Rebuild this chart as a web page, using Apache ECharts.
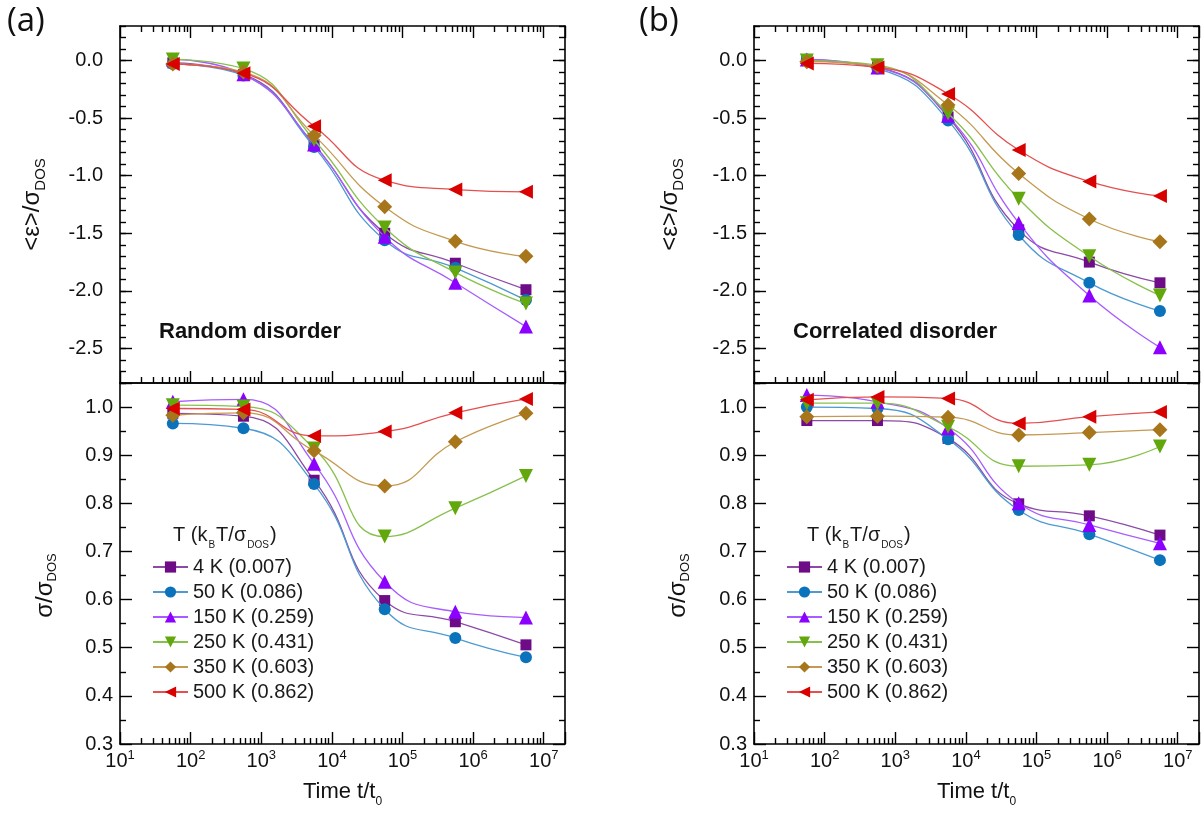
<!DOCTYPE html>
<html><head><meta charset="utf-8">
<script src="https://cdn.jsdelivr.net/npm/echarts@6/dist/echarts.min.js"></script>
<style>html,body{margin:0;padding:0;background:#fff}#c{width:1203px;height:813px}</style>
</head><body><div id="c"></div>
<script>
// ---------------- data ----------------
const TIME = [56, 560, 5600, 56000, 560000, 5600000];
const TEMP_LABELS = ['4 K (0.007)', '50 K (0.086)', '150 K (0.259)', '250 K (0.431)', '350 K (0.603)', '500 K (0.862)'];
const ENERGY_TICK_LABELS = ['-2.5', '-2.0', '-1.5', '-1.0', '-0.5', '0.0'];
const WIDTH_TICK_LABELS = ['0.3', '0.4', '0.5', '0.6', '0.7', '0.8', '0.9', '1.0'];
const X_TICK_EXPONENTS = [1, 2, 3, 4, 5, 6, 7];

// (a) random disorder, <eps>/sigma_DOS  (rows: 4K, 50K, 150K, 250K, 350K, 500K)
const randomEnergy = [
  [-0.02, -0.12, -0.73, -1.50, -1.76, -1.99],
  [-0.03, -0.13, -0.75, -1.56, -1.80, -2.08],
  [0.01, -0.12, -0.73, -1.53, -1.93, -2.31],
  [0.01, -0.07, -0.69, -1.45, -1.84, -2.11],
  [-0.03, -0.10, -0.65, -1.27, -1.57, -1.70],
  [-0.03, -0.11, -0.57, -1.04, -1.12, -1.14]
];
// (a) random disorder, sigma/sigma_DOS
const randomWidth = [
  [0.987, 0.981, 0.848, 0.598, 0.554, 0.506],
  [0.966, 0.956, 0.840, 0.580, 0.520, 0.480],
  [1.011, 1.016, 0.882, 0.637, 0.575, 0.563],
  [1.004, 1.001, 0.914, 0.731, 0.790, 0.857],
  [0.983, 0.988, 0.909, 0.836, 0.928, 0.987],
  [0.997, 0.995, 0.940, 0.949, 0.988, 1.017]
];
// (b) correlated disorder, <eps>/sigma_DOS
const correlatedEnergy = [
  [0.00, -0.06, -0.49, -1.47, -1.75, -1.93],
  [0.01, -0.07, -0.52, -1.515, -1.93, -2.175],
  [0.01, -0.06, -0.48, -1.41, -2.04, -2.49],
  [0.00, -0.04, -0.46, -1.20, -1.70, -2.04],
  [-0.01, -0.05, -0.386, -0.98, -1.376, -1.573],
  [-0.025, -0.06, -0.29, -0.777, -1.05, -1.177]
];
// (b) correlated disorder, sigma/sigma_DOS
const correlatedWidth = [
  [0.972, 0.972, 0.935, 0.799, 0.774, 0.734],
  [1.000, 0.997, 0.933, 0.786, 0.736, 0.682],
  [1.025, 1.011, 0.956, 0.800, 0.755, 0.717],
  [1.008, 1.008, 0.959, 0.877, 0.880, 0.918],
  [0.980, 0.981, 0.979, 0.942, 0.947, 0.953],
  [1.015, 1.021, 1.018, 0.966, 0.980, 0.990]
];

// ---------------- style ----------------
const FONT = '"Liberation Sans", Arial, Helvetica, sans-serif';
const MARKER_COLORS = ['#6e0c88', '#0b72bc', '#8b00ff', '#62a80c', '#a8761a', '#d90000'];
const LINE_COLORS = ['#8c4aa6', '#4d9ad3', '#a75cff', '#88c04c', '#c49a52', '#e45050'];
const SYMBOLS = [['rect', 11, 0], ['circle', 12, 0], ['triangle', 14, 0], ['triangle', 14, 180], ['diamond', 15, 0], ['triangle', 14, 90]];

const X_MIN = 10, X_MAX = 2e7;
const E_MIN = -2.8, E_MAX = 0.3;
const W_MIN = 0.3, W_MAX = 1.05;
const PLOT_W = 445, TOP = 26, MID = 383, BOT = 744;
const E_MAJOR_MIN = -2.5, E_MAJOR_MAX = 0;

const PANELS = [
  {left: 120, energy: randomEnergy, width: randomWidth, title: 'Random disorder', tag: '(a)', tagX: 7, eLabelMargin: 17, eNameGap: 74, wNameGap: 61},
  {left: 754, energy: correlatedEnergy, width: correlatedWidth, title: 'Correlated disorder', tag: '(b)', tagX: 639, eLabelMargin: 7, eNameGap: 70, wNameGap: 62}
];

const AX = {onZero: false, lineStyle: {color: '#000', width: 1.6}};
const TICK = (len) => ({show: true, inside: true, length: len, lineStyle: {color: '#000', width: 1.4}});
const MINOR = (n) => ({show: true, splitNumber: n, length: 6, lineStyle: {color: '#000', width: 1.4}});
const LABEL_STYLE = {fontFamily: FONT, fontSize: 20, color: '#111'};
const NAME_RICH = (base, sub, drop) => ({
  n: {fontFamily: FONT, fontSize: base, color: '#111', lineHeight: base + 2, verticalAlign: 'top'},
  s: {fontFamily: FONT, fontSize: sub, color: '#111', lineHeight: sub, padding: [drop, 0, 0, 0], verticalAlign: 'top'}
});

function xLabel(v) {
  const e = Math.round(Math.log10(v));
  if (X_TICK_EXPONENTS.indexOf(e) < 0 || Math.abs(Math.pow(10, e) - v) / v > 1e-6) return '';
  return '{b|10}{s|' + e + '}';
}
function wLabel(v) {
  const s = v.toFixed(1);
  return (Math.abs(v * 10 - Math.round(v * 10)) < 1e-6 && WIDTH_TICK_LABELS.indexOf(s) >= 0) ? s : '';
}
function eLabel(v) {
  const s = v.toFixed(1);
  return ENERGY_TICK_LABELS.indexOf(s) >= 0 ? s : '';
}

const grids = [], xAxes = [], yAxes = [], series = [], legends = [], graphics = [];
const eRange = E_MAX - E_MIN;
const topH = MID - TOP;

PANELS.forEach((p, pi) => {
  const gTop = grids.length;
  grids.push({left: p.left, top: TOP, width: PLOT_W, height: topH, outerBoundsMode: 'none'});
  const gBot = grids.length;
  grids.push({left: p.left, top: MID, width: PLOT_W, height: BOT - MID, outerBoundsMode: 'none'});
  const gHelp = grids.length;
  const helpTop = TOP + (E_MAX - E_MAJOR_MAX) / eRange * topH;
  const helpBot = TOP + (E_MAX - E_MAJOR_MIN) / eRange * topH;
  grids.push({left: p.left, top: helpTop, width: PLOT_W, height: helpBot - helpTop, outerBoundsMode: 'none'});

  // x axes
  const xTopB = xAxes.length;
  xAxes.push({gridIndex: gTop, type: 'log', logBase: 10, min: X_MIN, max: X_MAX, position: 'bottom',
    axisLine: AX, axisTick: TICK(12), minorTick: MINOR(9), axisLabel: {show: false}, splitLine: {show: false}});
  xAxes.push({gridIndex: gTop, type: 'log', logBase: 10, min: X_MIN, max: X_MAX, position: 'top',
    axisLine: AX, axisTick: TICK(12), minorTick: MINOR(9), axisLabel: {show: false}, splitLine: {show: false}});
  const xBotB = xAxes.length;
  xAxes.push({gridIndex: gBot, type: 'log', logBase: 10, min: X_MIN, max: X_MAX, position: 'bottom',
    axisLine: AX, axisTick: TICK(12), minorTick: MINOR(9), splitLine: {show: false},
    axisLabel: {show: true, margin: 5, formatter: xLabel, color: '#111',
      rich: {b: {fontFamily: FONT, fontSize: 20, color: '#111', lineHeight: 22, verticalAlign: 'bottom'},
             s: {fontFamily: FONT, fontSize: 13, color: '#111', lineHeight: 13, verticalAlign: 'top'}}},
    name: '{n|Time t/t}{s|0}', nameLocation: 'middle', nameGap: 37,
    nameTextStyle: {rich: NAME_RICH(22, 12, 15)}});
  xAxes.push({gridIndex: gBot, type: 'log', logBase: 10, min: X_MIN, max: X_MAX, position: 'top',
    axisLine: AX, axisTick: {show: false}, axisLabel: {show: false}, splitLine: {show: false}});
  xAxes.push({gridIndex: gHelp, type: 'value', show: false, axisLine: {show: false, onZero: false}});

  // y axes
  const yTopL = yAxes.length;
  yAxes.push({gridIndex: gTop, type: 'value', min: E_MIN, max: E_MAX, interval: 0.1, position: 'left',
    axisLine: AX, axisTick: TICK(6), axisLabel: {show: false}, splitLine: {show: false},
    name: '{n|<ε>/σ}{s|DOS}', nameLocation: 'middle', nameRotate: 90, nameGap: p.eNameGap,
    nameTextStyle: {rich: NAME_RICH(24, 15, 13)}});
  yAxes.push({gridIndex: gTop, type: 'value', min: E_MIN, max: E_MAX, interval: 0.1, position: 'right',
    axisLine: AX, axisTick: TICK(6), axisLabel: {show: false}, splitLine: {show: false}});
  const yBotL = yAxes.length;
  yAxes.push({gridIndex: gBot, type: 'value', min: W_MIN, max: W_MAX, interval: 0.1, position: 'left',
    axisLine: AX, axisTick: TICK(12), minorTick: MINOR(2), splitLine: {show: false},
    axisLabel: Object.assign({show: true, margin: 7, formatter: wLabel}, LABEL_STYLE),
    name: '{n|σ/σ}{s|DOS}', nameLocation: 'middle', nameRotate: 90, nameGap: p.wNameGap,
    nameTextStyle: {padding: [0, 44, 0, 0], rich: NAME_RICH(24, 13, 13)}});
  yAxes.push({gridIndex: gBot, type: 'value', min: W_MIN, max: W_MAX, interval: 0.1, position: 'right',
    axisLine: AX, axisTick: TICK(12), minorTick: MINOR(2), axisLabel: {show: false}, splitLine: {show: false}});
  // major energy ticks + labels (helper grid spans exactly the labelled range)
  yAxes.push({gridIndex: gHelp, type: 'value', min: E_MAJOR_MIN, max: E_MAJOR_MAX, interval: 0.5, position: 'left',
    axisLine: {show: false, onZero: false}, axisTick: TICK(12), splitLine: {show: false},
    axisLabel: Object.assign({show: true, margin: p.eLabelMargin, formatter: eLabel}, LABEL_STYLE)});
  yAxes.push({gridIndex: gHelp, type: 'value', min: E_MAJOR_MIN, max: E_MAJOR_MAX, interval: 0.5, position: 'right',
    axisLine: {show: false, onZero: false}, axisTick: TICK(12), splitLine: {show: false}, axisLabel: {show: false}});

  TEMP_LABELS.forEach((name, i) => {
    const [sym, size, rot] = SYMBOLS[i];
    const common = {
      type: 'line', name: name, symbol: sym, symbolSize: size, symbolRotate: rot,
      smooth: 0.5, showAllSymbol: true,
      itemStyle: {color: MARKER_COLORS[i]},
      lineStyle: {color: LINE_COLORS[i], width: 1.3},
      emphasis: {disabled: true}, z: 2 + i
    };
    series.push(Object.assign({}, common, {xAxisIndex: xTopB, yAxisIndex: yTopL,
      data: TIME.map((t, k) => [t, p.energy[i][k]])}));
    series.push(Object.assign({}, common, {xAxisIndex: xBotB, yAxisIndex: yBotL,
      data: TIME.map((t, k) => [t, p.width[i][k]])}));
  });

  legends.push({orient: 'vertical', left: p.left + 32, top: 557, padding: 0, itemWidth: 35, itemHeight: 14, itemGap: 5,
    selectedMode: false, data: TEMP_LABELS,
    textStyle: {fontFamily: FONT, fontSize: 20, color: '#1a1a1a'}});

  graphics.push({type: 'text', left: p.tagX, top: 5, style: {text: p.tag, font: '33px "Open Sans", Lato, sans-serif', fill: '#111'}});
  graphics.push({type: 'text', left: p.left + 39, top: 321, style: {text: p.title, font: 'bold 22px ' + FONT, fill: '#111'}});
  graphics.push({type: 'text', left: p.left + 53, top: 525, style: {
    text: '{n|T (k}{s|B}{n|T/σ}{s|DOS}{n|)}',
    rich: {n: {fontFamily: FONT, fontSize: 20, fill: '#1a1a1a', lineHeight: 22, verticalAlign: 'top'},
           s: {fontFamily: FONT, fontSize: 10, fill: '#1a1a1a', lineHeight: 10, padding: [15, 1, 0, 1], verticalAlign: 'top'}}}});
});

const chart = echarts.init(document.getElementById('c'), null, {renderer: 'canvas'});
chart.setOption({
  animation: false,
  backgroundColor: '#fff',
  grid: grids,
  xAxis: xAxes,
  yAxis: yAxes,
  legend: legends,
  series: series,
  graphic: graphics
});
</script>
</body></html>
